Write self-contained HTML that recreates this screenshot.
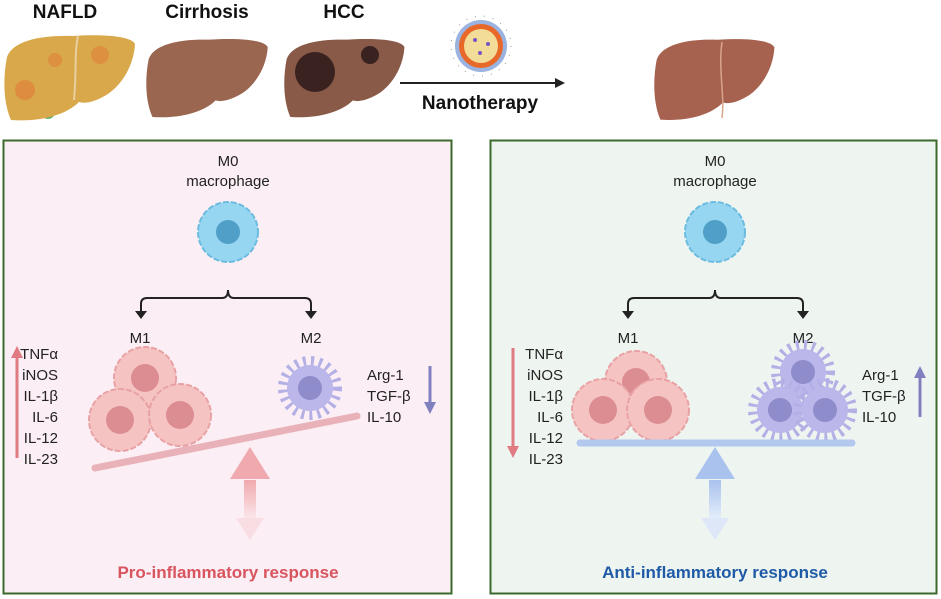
<!DOCTYPE html>
<html><head><meta charset="utf-8"><style>
html,body{margin:0;padding:0;background:#fff;}
svg{display:block;font-family:"Liberation Sans",sans-serif;}
</style></head><body>
<svg width="941" height="599" viewBox="0 0 941 599" xmlns="http://www.w3.org/2000/svg">
<defs>
<path id="liver" d="M4,25 C10,8 40,3 70,4 C100,2 128,4 132,12 C131,30 122,50 105,62 C92,70 82,72 76,70 C62,84 35,90 8,88 C0,70 0,45 4,25 Z"/>
<linearGradient id="gr" x1="0" y1="0" x2="0" y2="1"><stop offset="0" stop-color="#f0a9ae"/><stop offset="1" stop-color="#fbe8ec"/></linearGradient>
<linearGradient id="gb" x1="0" y1="0" x2="0" y2="1"><stop offset="0" stop-color="#a9c2ee"/><stop offset="1" stop-color="#e6eefa"/></linearGradient>
<g id="m1"><circle r="31" fill="#f6c3c3" stroke="#e8a2a4" stroke-width="2" stroke-dasharray="6 2"/><circle r="14" fill="#dc8d92"/></g>
<g id="m2"><circle r="27" fill="none" stroke="#b4b0e6" stroke-width="10" stroke-dasharray="3 5"/><circle r="23" fill="#bcb7ea"/><circle r="12" fill="#8f8ccb"/></g>
</defs>
<g font-weight="bold" font-size="19" text-anchor="middle" fill="#111">
<text x="65" y="18">NAFLD</text><text x="207" y="18">Cirrhosis</text><text x="344" y="18">HCC</text>
</g>
<circle cx="48" cy="112" r="7" fill="#6ab06a"/>
<use href="#liver" transform="translate(3,32)" fill="#d9a84a"/>
<path d="M78,36 C74,55 77,68 74,100" stroke="#e8d0a0" stroke-width="2" fill="none"/>
<circle cx="25" cy="90" r="10" fill="#e0803a" opacity="0.7"/><circle cx="100" cy="55" r="9" fill="#e0803a" opacity="0.6"/><circle cx="55" cy="60" r="7" fill="#e0803a" opacity="0.6"/>
<circle cx="180" cy="108" r="6" fill="#6ab06a"/>
<use href="#liver" transform="translate(145,36) scale(0.93,0.92)" fill="#9a6650"/>
<circle cx="318" cy="105" r="6" fill="#5a8a50"/>
<use href="#liver" transform="translate(283,36) scale(0.92,0.92)" fill="#8a5a48"/>
<circle cx="315" cy="72" r="20" fill="#3a2220"/><circle cx="370" cy="55" r="9" fill="#3a2220"/>
<circle cx="481" cy="46" r="30" fill="none" stroke="#999" stroke-width="1" stroke-dasharray="1 8"/>
<circle cx="481" cy="46" r="26" fill="#9ab3e0"/>
<circle cx="481" cy="46" r="22" fill="#e8682a"/>
<circle cx="481" cy="46" r="17" fill="#f2dc98"/>
<circle cx="475" cy="40" r="2" fill="#7a55c8"/><circle cx="488" cy="44" r="2" fill="#7a55c8"/><circle cx="480" cy="53" r="2" fill="#7a55c8"/>
<line x1="400" y1="83" x2="557" y2="83" stroke="#222" stroke-width="2"/>
<polygon points="565,83 555,78 555,88" fill="#222"/>
<text x="480" y="109" font-weight="bold" font-size="19" text-anchor="middle" fill="#111">Nanotherapy</text>
<circle cx="695" cy="107" r="9" fill="#6ab06a"/>
<use href="#liver" transform="translate(653,36) scale(0.92,0.95)" fill="#a6614f"/>
<path d="M722,42 C718,70 725,95 722,118" stroke="#d7a58a" stroke-width="1.5" fill="none"/>

<rect x="3.5" y="140.5" width="448" height="453" fill="#fbeef4" stroke="#3b6a2c" stroke-width="2"/>
<g text-anchor="middle" font-size="15" fill="#222">
<text x="228" y="166">M0</text><text x="228" y="186">macrophage</text>
<text x="140" y="343">M1</text><text x="311" y="343">M2</text>
</g>
<circle cx="228" cy="232" r="30" fill="#96d6f0" stroke="#6cbbe0" stroke-width="2" stroke-dasharray="6 2"/>
<circle cx="228" cy="232" r="12" fill="#4f9fc8"/>
<path d="M141,313 V304 Q141,298 147,298 H222 Q228,298 228,290 Q228,298 234,298 H305 Q311,298 311,304 V313" stroke="#222" stroke-width="2" fill="none"/>
<polygon points="135,311 147,311 141,319" fill="#222"/><polygon points="305,311 317,311 311,319" fill="#222"/>
<use href="#m1" x="145" y="378"/><use href="#m1" x="120" y="420"/><use href="#m1" x="180" y="415"/>
<use href="#m2" x="310" y="388"/>
<line x1="95" y1="468" x2="357" y2="416" stroke="#e8b2b8" stroke-width="7" stroke-linecap="round"/>
<polygon points="250,447 230,479 270,479" fill="#f0a9ae"/>
<rect x="244" y="480" width="12" height="40" fill="url(#gr)"/>
<polygon points="236,518 264,518 250,540" fill="#f8dde3"/>
<text x="228" y="578" text-anchor="middle" font-weight="bold" font-size="17" fill="#d8545e">Pro-inflammatory response</text>
<g font-size="15" fill="#222" text-anchor="end">
<text x="58" y="359">TNFα</text><text x="58" y="380">iNOS</text><text x="58" y="401">IL-1β</text><text x="58" y="422">IL-6</text><text x="58" y="443">IL-12</text><text x="58" y="464">IL-23</text>
</g>
<line x1="17" y1="356" x2="17" y2="458" stroke="#e07b83" stroke-width="3"/>
<polygon points="11,358 23,358 17,346" fill="#e07b83"/>
<g font-size="15" fill="#222"><text x="367" y="380">Arg-1</text><text x="367" y="401">TGF-β</text><text x="367" y="422">IL-10</text></g>
<line x1="430" y1="366" x2="430" y2="404" stroke="#8080c0" stroke-width="3"/>
<polygon points="424,402 436,402 430,414" fill="#8080c0"/>

<rect x="490.5" y="140.5" width="446" height="453" fill="#eef5f1" stroke="#3b6a2c" stroke-width="2"/>
<g text-anchor="middle" font-size="15" fill="#222">
<text x="715" y="166">M0</text><text x="715" y="186">macrophage</text>
<text x="628" y="343">M1</text><text x="803" y="343">M2</text>
</g>
<circle cx="715" cy="232" r="30" fill="#96d6f0" stroke="#6cbbe0" stroke-width="2" stroke-dasharray="6 2"/>
<circle cx="715" cy="232" r="12" fill="#4f9fc8"/>
<path d="M628,313 V304 Q628,298 634,298 H709 Q715,298 715,290 Q715,298 721,298 H797 Q803,298 803,304 V313" stroke="#222" stroke-width="2" fill="none"/>
<polygon points="622,311 634,311 628,319" fill="#222"/><polygon points="797,311 809,311 803,319" fill="#222"/>
<use href="#m1" x="636" y="382"/><use href="#m1" x="603" y="410"/><use href="#m1" x="658" y="410"/>
<use href="#m2" x="803" y="372"/><use href="#m2" x="780" y="410"/><use href="#m2" x="825" y="410"/>
<line x1="580" y1="443" x2="852" y2="443" stroke="#b3c8ee" stroke-width="7" stroke-linecap="round"/>
<polygon points="715,447 695,479 735,479" fill="#a9c2ee"/>
<rect x="709" y="480" width="12" height="40" fill="url(#gb)"/>
<polygon points="701,518 729,518 715,540" fill="#dde7f8"/>
<text x="715" y="578" text-anchor="middle" font-weight="bold" font-size="17" fill="#1f5aa6">Anti-inflammatory response</text>
<g font-size="15" fill="#222" text-anchor="end">
<text x="563" y="359">TNFα</text><text x="563" y="380">iNOS</text><text x="563" y="401">IL-1β</text><text x="563" y="422">IL-6</text><text x="563" y="443">IL-12</text><text x="563" y="464">IL-23</text>
</g>
<line x1="513" y1="348" x2="513" y2="448" stroke="#e07b83" stroke-width="3"/>
<polygon points="507,446 519,446 513,458" fill="#e07b83"/>
<g font-size="15" fill="#222"><text x="862" y="380">Arg-1</text><text x="862" y="401">TGF-β</text><text x="862" y="422">IL-10</text></g>
<line x1="920" y1="376" x2="920" y2="417" stroke="#8080c0" stroke-width="3"/>
<polygon points="914,378 926,378 920,366" fill="#8080c0"/>
</svg>
</body></html>
